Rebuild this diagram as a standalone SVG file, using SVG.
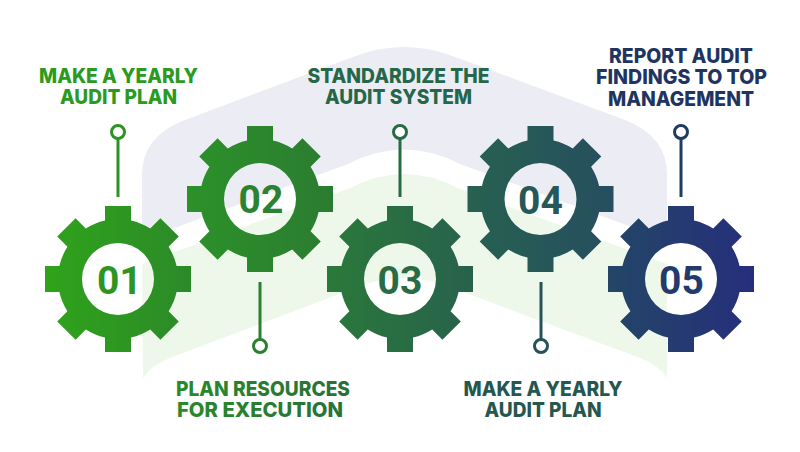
<svg xmlns="http://www.w3.org/2000/svg" xmlns:xlink="http://www.w3.org/1999/xlink" width="800" height="452" viewBox="0 0 800 452">
<style>
.lab{font-family:"Inter","Liberation Sans",sans-serif;font-weight:800;font-size:20.500px;text-anchor:middle}
.num{font-family:"Roboto","Liberation Sans",sans-serif;font-weight:700;font-size:39px;text-anchor:middle}
.ln{fill:none;stroke-width:3}
.dot{fill:#fff;stroke-width:3}
</style>
<defs>
<linearGradient id="g1" x1="0" y1="0" x2="1" y2="0"><stop offset="0" stop-color="#2fa31a"/><stop offset="1" stop-color="#2c8a29"/></linearGradient>
<linearGradient id="g2" x1="0" y1="0" x2="1" y2="0"><stop offset="0" stop-color="#2c9129"/><stop offset="1" stop-color="#2b7c31"/></linearGradient>
<linearGradient id="g3" x1="0" y1="0" x2="1" y2="0"><stop offset="0" stop-color="#2a793a"/><stop offset="1" stop-color="#28614c"/></linearGradient>
<linearGradient id="g4" x1="0" y1="0" x2="1" y2="0"><stop offset="0" stop-color="#276150"/><stop offset="1" stop-color="#264e60"/></linearGradient>
<linearGradient id="g5" x1="0" y1="0" x2="1" y2="0"><stop offset="0" stop-color="#234666"/><stop offset="1" stop-color="#262e7c"/></linearGradient>
<linearGradient id="t2" x1="0" y1="0" x2="1" y2="0"><stop offset="0" stop-color="#2a8a28"/><stop offset="1" stop-color="#27703a"/></linearGradient>
<path id="gear" fill-rule="evenodd" d="M-13-73H13V-58.600A60 60 0 0 1 32.200-50.600L42.400-60.800 60.800-42.400 50.600-32.200A60 60 0 0 1 58.600-13H73V13H58.600A60 60 0 0 1 50.600 32.200L60.800 42.400 42.400 60.800 32.200 50.600A60 60 0 0 1 13 58.600V73H-13V58.600A60 60 0 0 1-32.200 50.600L-42.400 60.800-60.800 42.400-50.600 32.200A60 60 0 0 1-58.600 13H-73V-13H-58.600A60 60 0 0 1-50.600-32.200L-60.800-42.400-42.400-60.800-32.200-50.600A60 60 0 0 1-13-58.600ZM36 0A36 36 0 1 0-36 0 36 36 0 1 0 36 0Z"/>
</defs>
<rect width="800" height="452" fill="#fff"/>
<g id="background">
<path fill="#ecedf4" d="M142 240V175Q142 136 185 120L350 58Q404 36 458 58L625 120Q667 136 667 175V240L460 164Q404 135 348 164Z"/>
<path fill="#eef8ea" d="M142 264L350 188Q404 160 458 188L667 264V378Q660 366 640 358L458 290Q404 266 350 290L170 358Q150 366 143 378Z"/>
</g>
<g id="connectors">
<path class="ln" stroke="#2c9324" d="M118 139V197"/><circle class="dot" stroke="#2c9324" cx="118" cy="132" r="6.500"/>
<path class="ln" stroke="#2b8030" d="M260 282V339"/><circle class="dot" stroke="#2b8030" cx="260" cy="346" r="6.500"/>
<path class="ln" stroke="#286a44" d="M400 139V197"/><circle class="dot" stroke="#286a44" cx="400" cy="132" r="6.500"/>
<path class="ln" stroke="#26535a" d="M541 282V339"/><circle class="dot" stroke="#26535a" cx="541" cy="346" r="6.500"/>
<path class="ln" stroke="#1f3c62" d="M681 139V197"/><circle class="dot" stroke="#1f3c62" cx="681" cy="132" r="6.500"/>
</g>
<g id="node-01">
<use href="#gear" xlink:href="#gear" x="118" y="279" fill="url(#g1)"/>
<text class="num" x="119.500" y="294" fill="#2d9622">01</text>
<text class="lab" fill="#2a9a20"><tspan x="118.500" y="83" textLength="159" lengthAdjust="spacingAndGlyphs">MAKE A YEARLY</tspan><tspan x="118.500" y="104" textLength="117" lengthAdjust="spacingAndGlyphs">AUDIT PLAN</tspan></text>
</g>
<g id="node-02">
<use href="#gear" xlink:href="#gear" x="260" y="199" fill="url(#g2)"/>
<text class="num" x="261" y="213" fill="#2b8230">02</text>
<text class="lab" fill="url(#t2)"><tspan x="263" y="396" textLength="174" lengthAdjust="spacingAndGlyphs">PLAN RESOURCES</tspan><tspan x="260" y="417" textLength="166" lengthAdjust="spacingAndGlyphs">FOR EXECUTION</tspan></text>
</g>
<g id="node-03">
<use href="#gear" xlink:href="#gear" x="400" y="279" fill="url(#g3)"/>
<text class="num" x="400" y="294" fill="#296c44">03</text>
<text class="lab" fill="#25674a"><tspan x="398.500" y="83" textLength="182" lengthAdjust="spacingAndGlyphs">STANDARDIZE THE</tspan><tspan x="398.500" y="104" textLength="147" lengthAdjust="spacingAndGlyphs">AUDIT SYSTEM</tspan></text>
</g>
<g id="node-04">
<use href="#gear" xlink:href="#gear" x="540.500" y="199" fill="url(#g4)"/>
<text class="num" x="540.500" y="214" fill="#275858">04</text>
<text class="lab" fill="#24574f"><tspan x="543" y="396" textLength="159" lengthAdjust="spacingAndGlyphs">MAKE A YEARLY</tspan><tspan x="543" y="417" textLength="117" lengthAdjust="spacingAndGlyphs">AUDIT PLAN</tspan></text>
</g>
<g id="node-05">
<use href="#gear" xlink:href="#gear" x="681" y="279" fill="url(#g5)"/>
<text class="num" x="681.500" y="294" fill="#223a6c">05</text>
<text class="lab" fill="#1f3561"><tspan x="681" y="63" textLength="144" lengthAdjust="spacingAndGlyphs">REPORT AUDIT</tspan><tspan x="681.500" y="84" textLength="171" lengthAdjust="spacingAndGlyphs">FINDINGS TO TOP</tspan><tspan x="681" y="106" textLength="146" lengthAdjust="spacingAndGlyphs">MANAGEMENT</tspan></text>
</g>
</svg>
